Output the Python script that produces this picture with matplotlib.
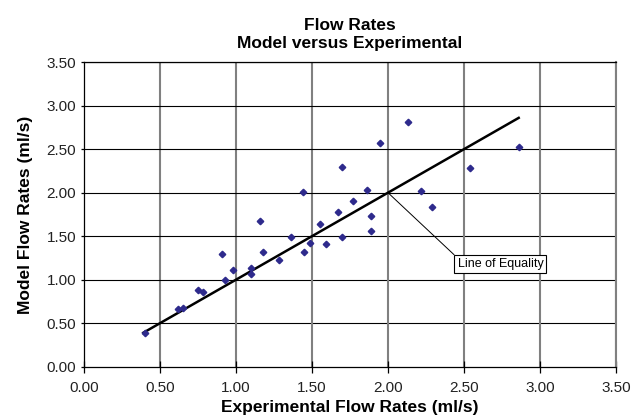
import matplotlib
matplotlib.use("Agg")
import matplotlib.pyplot as plt

plt.rcParams['font.family'] = ['Liberation Sans', 'DejaVu Sans']

# experimental vs model flow rates (ml/s)
experimental = [0.40, 0.62, 0.65, 0.75, 0.78, 0.91, 0.93, 0.98, 1.10, 1.10,
                1.16, 1.18, 1.28, 1.36, 1.44, 1.45, 1.49, 1.55, 1.59, 1.67,
                1.70, 1.70, 1.77, 1.86, 1.89, 1.89, 1.95, 2.13, 2.22, 2.29,
                2.54, 2.86]
model = [0.39, 0.66, 0.68, 0.88, 0.86, 1.30, 1.00, 1.11, 1.07, 1.13,
         1.68, 1.32, 1.23, 1.49, 2.01, 1.32, 1.42, 1.64, 1.41, 1.78,
         2.30, 1.49, 1.91, 2.03, 1.73, 1.56, 2.57, 2.81, 2.02, 1.84,
         2.28, 2.53]
equality = [0.39, 2.86]
ticks = [0.0, 0.5, 1.0, 1.5, 2.0, 2.5, 3.0, 3.5]

fig = plt.figure(figsize=(6.44, 4.19), dpi=100)
ax = fig.add_axes([0.1304, 0.1248, 0.8261, 0.7268])

ax.set_xlim(0, 3.5)
ax.set_ylim(0, 3.5)
ax.set_xticks(ticks)
ax.set_yticks(ticks)
ax.set_xticklabels([f"{t:.2f}" for t in ticks], fontsize=11, color='#222222')
ax.set_yticklabels([f"{t:.2f}" for t in ticks], fontsize=11, color='#222222')

for t in ticks[1:]:
    ax.axvline(t, color='#808080', lw=1.5, zorder=1)
    ax.axhline(t, color='black', lw=0.8, zorder=1)

ax.plot(equality, equality, color='black', lw=1.8, zorder=2)
ax.plot(experimental, model, linestyle='none', marker='D', markersize=3.3,
        color='#2e2a8c', zorder=3)

ax.annotate('Line of Equality', xy=(2.0, 2.0), xytext=(2.74, 1.18),
            fontsize=9, ha='center', va='center',
            bbox=dict(boxstyle='square,pad=0.25', fc='white', ec='black', lw=0.8),
            arrowprops=dict(arrowstyle='-', color='black', lw=0.7,
                            shrinkA=0, shrinkB=0, relpos=(0, 1)),
            zorder=4)

for s in ['left', 'bottom', 'top']:
    ax.spines[s].set_color('black')
    ax.spines[s].set_linewidth(0.9)
ax.spines['right'].set_color('#808080')
ax.spines['right'].set_linewidth(1.5)
ax.tick_params(axis='x', direction='inout', length=8, width=0.9, pad=6)
ax.tick_params(axis='y', direction='out', length=2.5, width=0.9, pad=3)

ax.set_xlabel('Experimental Flow Rates (ml/s)', fontsize=12.5, fontweight='bold', labelpad=4)
ax.set_ylabel('Model Flow Rates (ml/s)', fontsize=12.5, fontweight='bold', labelpad=10)
ax.set_title('Flow Rates\nModel versus Experimental', fontsize=12.5,
             fontweight='bold', pad=10, linespacing=1.3)

fig.savefig('out.png', dpi=100)
